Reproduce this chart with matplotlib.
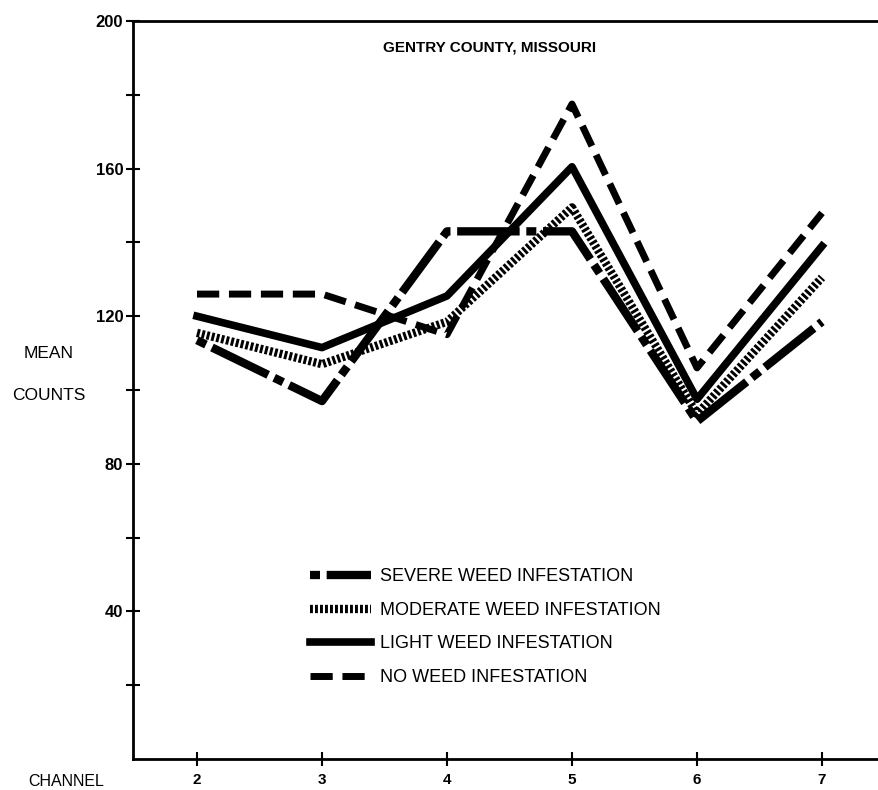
import matplotlib.pyplot as plt
import numpy as np

plt.rcParams['font.family'] = ['Liberation Sans', 'DejaVu Sans']

channels = [2, 3, 4, 5, 6, 7]
severe = [113.5, 97, 143, 143, 91.5, 118.5]
moderate = [115.5, 107, 118.5, 149.5, 93.5, 130.5]
light = [120, 111.5, 125.5, 160.5, 97.5, 139]
no_weed = [126, 126, 115, 177.5, 106, 148]

labels = ['SEVERE WEED INFESTATION', 'MODERATE WEED INFESTATION',
          'LIGHT WEED INFESTATION', 'NO WEED INFESTATION']
yticks = [40, 80, 120, 160, 200]
yminor = [20, 60, 100, 140, 180]

fig = plt.figure(figsize=(8.79, 7.90), dpi=100)
ax = fig.add_axes([0.1513, 0.0392, 0.8487, 0.9342])

ax.plot(channels, severe, c='black', lw=6, ls=(0, (1.2, 0.8, 7.5, 0.8)),
        solid_capstyle='butt', dash_capstyle='butt', label=labels[0])
ax.plot(channels, moderate, c='black', lw=6, ls=(0, (0.35, 0.25)),
        dash_capstyle='butt', label=labels[1])
ax.plot(channels, light, c='black', lw=5.5, ls='-', label=labels[2])
ax.plot(channels, no_weed, c='black', lw=5, ls=(0, (3.2, 1.4)),
        dash_capstyle='butt', label=labels[3])

ax.set_xlim(1.488, 7.456)
ax.set_ylim(0, 200)
ax.set_xticks(channels)
ax.set_xticklabels([str(c) for c in channels], fontsize=11, fontweight='bold')
ax.set_yticks(yticks)
ax.set_yticklabels([str(v) for v in yticks], fontsize=12, fontweight='bold')
ax.set_yticks(yminor, minor=True)
ax.tick_params(axis='both', which='both', direction='inout', length=10, width=1.5)
ax.tick_params(axis='x', pad=5)
ax.tick_params(axis='y', pad=2)

for s in ['left', 'bottom', 'top']:
    ax.spines[s].set_linewidth(2)
ax.spines['right'].set_visible(False)

ax.text(0.4786, 0.9647, 'GENTRY COUNTY, MISSOURI', transform=ax.transAxes,
        ha='center', va='center', fontsize=11, fontweight='bold')
fig.text(49 / 879, 1 - 354 / 790, 'MEAN', ha='center', va='center', fontsize=12.5)
fig.text(49 / 879, 1 - 395 / 790, 'COUNTS', ha='center', va='center', fontsize=12.5)
fig.text(66 / 879, 1 - 782 / 790, 'CHANNEL', ha='center', va='center', fontsize=11.5)

ax.legend(loc='upper left', bbox_to_anchor=(0.2373, 0.2585), frameon=False,
          fontsize=13, handlelength=3.4, handletextpad=0.45, labelspacing=0.92,
          borderpad=0, borderaxespad=0)

fig.savefig('out.png', dpi=100)
